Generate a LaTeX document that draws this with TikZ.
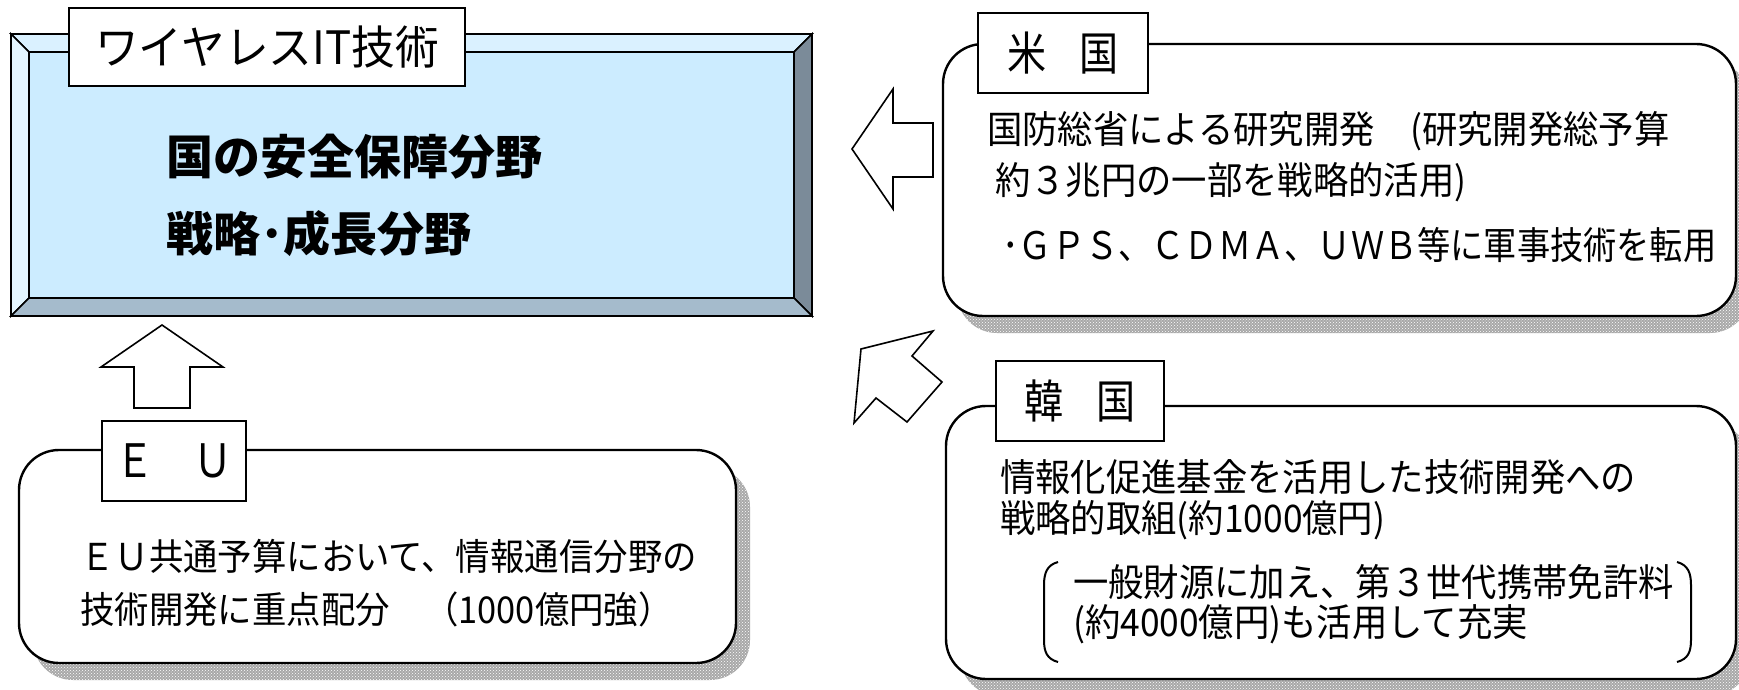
\documentclass[tikz,border=0pt]{standalone}
\usepackage{fontspec}
\usepackage{graphicx}
\usetikzlibrary{patterns}
\setmainfont{Noto Sans CJK JP}
\newfontfamily\bodyf{Noto Sans CJK JP}[FakeStretch=0.93]
\newfontfamily\tabf{Noto Sans CJK JP}[FakeStretch=0.85]
\newfontfamily\titlef{Noto Sans CJK JP}[FakeStretch=0.95]
\definecolor{face}{HTML}{CCECFF}
\definecolor{bvtop}{HTML}{DAF1FF}
\definecolor{bvleft}{HTML}{E4F6FF}
\definecolor{bvright}{HTML}{7B8B99}
\definecolor{bvbottom}{HTML}{A5BBCC}
\definecolor{shade}{HTML}{A8A8A8}
\begin{document}
\begin{tikzpicture}[x=1pt,y=-1pt,
  bevel/.style={draw=black,line width=1.6pt,line join=miter},
  panel/.style={draw=black,line width=2.4pt,fill=white,rounded corners=40pt},
  shadowbox/.style={fill=shade,rounded corners=40pt},
  shadowdots/.style={pattern=crosshatch dots,pattern color=white,rounded corners=40pt},
  tab/.style={draw=black,line width=2pt,fill=white,inner sep=0pt,font=\tabf\fontsize{46}{50}\selectfont},
  blockarrow/.style={draw=black,line width=1.6pt,fill=white,line join=miter},
  body/.style={anchor=west,inner sep=0pt,font=\bodyf\fontsize{38}{44}\selectfont},
  eubody/.style={anchor=west,inner sep=0pt,font=\bodyf\fontsize{37}{44}\selectfont},
  headline/.style={anchor=west,inner sep=0pt,font=\fontsize{47}{52}\selectfont\bfseries},
  brk/.style={draw=black,line width=2pt}]
\useasboundingbox (0,0) rectangle (1739,690);
\clip (0,0) rectangle (1739,690);
\fill[white] (0,0) rectangle (1739,690);

% ---- bevelled box ----
\path[bevel,fill=bvtop] (11,34) -- (812,34) -- (794,52) -- (29,52) -- cycle;
\path[bevel,fill=bvleft] (11,34) -- (29,52) -- (29,298) -- (11,316) -- cycle;
\path[bevel,fill=bvright] (812,34) -- (812,316) -- (794,298) -- (794,52) -- cycle;
\path[bevel,fill=bvbottom] (11,316) -- (812,316) -- (794,298) -- (29,298) -- cycle;
\path[bevel,fill=face] (29,52) rectangle (794,298);
\node[tab,minimum width=396pt,minimum height=78pt,font=\titlef\fontsize{46}{50}\selectfont] (wtab) at (267,47) {ワイヤレスIT技術};
\node[headline] (h1) at (166,157) {国の安全保障分野};
\node[headline] (h2) at (166,234) {戦略･成長分野};

% ---- shadows ----
\path[shadowbox] (33,467) rectangle (750,680);
\path[shadowdots] (33,467) rectangle (750,680);
\path[shadowbox] (957,61) rectangle (1750,333);
\path[shadowdots] (957,61) rectangle (1750,333);
\path[shadowbox] (960,423) rectangle (1750,696);
\path[shadowdots] (960,423) rectangle (1750,696);

% ---- panels ----
\path[panel] (19,450) rectangle (736,663);
\path[panel] (943,44) rectangle (1736,316);
\path[panel] (946,406) rectangle (1736,679);

% ---- tabs ----
\node[tab,minimum width=144pt,minimum height=80pt] (eutab) at (174,461) {Ｅ　Ｕ};
\node[tab,minimum width=170pt,minimum height=80pt] (ustab) at (1063,53) {米\hspace{0.7em}国};
\node[tab,minimum width=168pt,minimum height=80pt] (krtab) at (1080,401) {韓\hspace{0.7em}国};

% ---- EU text ----
\node[eubody] (eu1) at (80,556) {ＥＵ共通予算において、情報通信分野の};
\node[eubody] (eu2) at (80,609) {技術開発に重点配分　（1000億円強）};

% ---- US text ----
\node[body] (us1) at (987,131) {国防総省による研究開発　(研究開発総予算};
\node[body] (us2) at (995,182) {約３兆円の一部を戦略的活用)};
\node[body] (us3) at (1002,245) {\scalebox{0.94}[1]{･ＧＰＳ、ＣＤＭＡ、ＵＷＢ等に軍事技術を転用}};

% ---- Korea text ----
\node[body] (kr1) at (1000,477) {情報化促進基金を活用した技術開発への};
\node[body] (kr2) at (1000,520) {戦略的取組(約1000億円)};
\node[body] (kr3) at (1073,582) {一般財源に加え、第３世代携帯免許料};
\node[body] (kr4) at (1073,624) {(約4000億円)も活用して充実};
\draw[brk] (1058,562) .. controls (1047,565) and (1044,573) .. (1044,585) -- (1044,640) .. controls (1044,652) and (1047,659) .. (1058,662);
\draw[brk] (1677,562) .. controls (1688,565) and (1691,573) .. (1691,585) -- (1691,640) .. controls (1691,652) and (1688,659) .. (1677,662);

% ---- block arrows ----
\path[blockarrow] (162,325) -- (223,367) -- (190,367) -- (190,408) -- (134,408) -- (134,367) -- (101,367) -- cycle;
\path[blockarrow] (852,149) -- (893,89) -- (893,123) -- (933,123) -- (933,177) -- (893,177) -- (893,209) -- cycle;
\path[blockarrow] (933,331) -- (912,356) -- (942,382) -- (907,422) -- (876,398) -- (854,423) -- (861,349) -- cycle;
\end{tikzpicture}
\end{document}
